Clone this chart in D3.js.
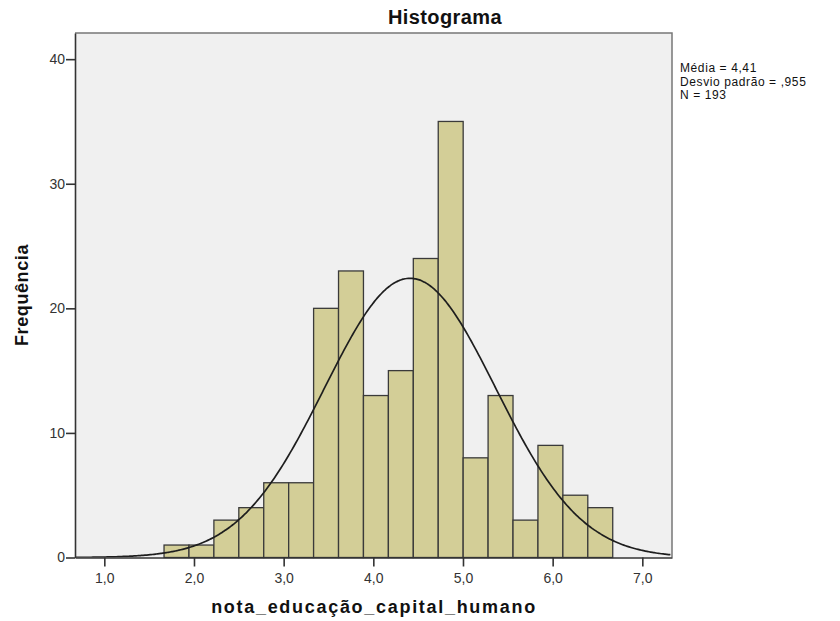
<!DOCTYPE html>
<html>
<head>
<meta charset="utf-8">
<script src="https://cdn.jsdelivr.net/npm/d3@7"></script>
<style>
  body { margin: 0; background: #fff; }
  svg { display: block; font-family: "Liberation Sans", Arial, sans-serif; }
</style>
</head>
<body>
<div id="chart"></div>
<script>
// ===================================================================

const counts = [ 1, 1, 3, 4, 6, 6, 20, 23, 13, 15, 24, 35, 8, 13, 3, 9, 5, 4 ]
const BIN_START = 1.666
const BIN_WIDTH = 0.278

const xTicks = [ 1, 2, 3, 4, 5, 6, 7 ]
const yTicks = [ 0, 10, 20, 30, 40 ]

const MEAN = 4.41
const SD = 0.955
const N = 193

const statLines = [ 'Média = 4,41', 'Desvio padrão = ,955', 'N = 193' ]

// ===================================================================

const WIDTH = 840
const HEIGHT = 621

const PLOT = { left: 75, right: 672, top: 33, bottom: 557.5 }

const fmt = d => d3.format('.1f')(d).replace('.', ',')

const x = d3.scaleLinear()
  .domain([ 0.673, 7.331 ])
  .range([ PLOT.left, PLOT.right ])
const y = d3.scaleLinear()
  .domain([ 0, 42.1 ])
  .range([ PLOT.bottom, PLOT.top ])

const bins = counts.map((count, i) => ({
  x0: BIN_START + i * BIN_WIDTH,
  x1: BIN_START + (i + 1) * BIN_WIDTH,
  count
}))

// normal curve for the stated mean / sd, scaled to the bin width
const density = v => N * BIN_WIDTH / (SD * Math.sqrt(2 * Math.PI)) *
  Math.exp(-0.5 * Math.pow((v - MEAN) / SD, 2))
const curve = d3.range(x.domain()[0], x.domain()[1] + 0.001, 0.02)
  .map(v => ({ v, f: density(v) }))

const svg = d3.select('#chart')
  .append('svg')
    .attr('width', WIDTH)
    .attr('height', HEIGHT)

svg.append('rect')
  .attr('x', PLOT.left)
  .attr('y', PLOT.top)
  .attr('width', PLOT.right - PLOT.left)
  .attr('height', PLOT.bottom - PLOT.top)
  .attr('fill', '#f0f0f0')

svg.append('g')
  .selectAll('rect')
  .data(bins)
  .join('rect')
    .attr('x', d => x(d.x0))
    .attr('y', d => y(d.count))
    .attr('width', d => x(d.x1) - x(d.x0))
    .attr('height', d => y(0) - y(d.count))
    .attr('fill', '#d3ce97')
    .attr('stroke', '#3a3a3a')
    .attr('stroke-width', 1.3)

const clip = svg.append('clipPath').attr('id', 'plotclip')
clip.append('rect')
  .attr('x', PLOT.left)
  .attr('y', PLOT.top)
  .attr('width', PLOT.right - PLOT.left)
  .attr('height', PLOT.bottom - PLOT.top)

svg.append('path')
  .datum(curve)
  .attr('clip-path', 'url(#plotclip)')
  .attr('d', d3.line().x(d => x(d.v)).y(d => y(d.f)).curve(d3.curveBasis))
  .attr('fill', 'none')
  .attr('stroke', '#1e1e1e')
  .attr('stroke-width', 1.7)

// frame: top and right in grey
svg.append('path')
  .attr('d', `M${PLOT.left},${PLOT.top}H${PLOT.right}V${PLOT.bottom}`)
  .attr('fill', 'none')
  .attr('stroke', '#777')
  .attr('stroke-width', 1.5)

// axes
const xAxis = svg.append('g')
  .attr('transform', `translate(0, ${PLOT.bottom})`)
  .call(d3.axisBottom(x).tickValues(xTicks).tickFormat(fmt).tickSize(9).tickSizeOuter(0))
const yAxis = svg.append('g')
  .attr('transform', `translate(${PLOT.left}, 0)`)
  .call(d3.axisLeft(y).tickValues(yTicks).tickSize(9).tickSizeOuter(0))

for (const ax of [ xAxis, yAxis ]) {
  ax.select('.domain').attr('stroke', '#333').attr('stroke-width', 1.6)
  ax.selectAll('.tick line').attr('stroke', '#333').attr('stroke-width', 1.6)
  ax.selectAll('.tick text')
    .attr('fill', '#333')
    .style('font-size', '14px')
    .style('font-family', '"Liberation Sans", Arial, sans-serif')
}
xAxis.selectAll('.tick text').attr('dy', '0.95em')
yAxis.selectAll('.tick text').attr('x', -10)

// titles
svg.append('text')
  .attr('x', 445)
  .attr('y', 24)
  .attr('text-anchor', 'middle')
  .style('font-size', '20px')
  .style('font-weight', 'bold')
  .style('letter-spacing', '0.4px')
  .attr('fill', '#111')
  .text('Histograma')

svg.append('text')
  .attr('x', 374)
  .attr('y', 613)
  .attr('text-anchor', 'middle')
  .style('font-size', '18px')
  .style('font-weight', 'bold')
  .style('letter-spacing', '1.7px')
  .attr('fill', '#111')
  .text('nota_educação_capital_humano')

svg.append('text')
  .attr('transform', `translate(28, 295) rotate(-90)`)
  .attr('text-anchor', 'middle')
  .style('font-size', '18px')
  .style('font-weight', 'bold')
  .style('letter-spacing', '0.6px')
  .attr('fill', '#111')
  .text('Frequência')

// stats legend
svg.append('g')
  .selectAll('text')
  .data(statLines)
  .join('text')
    .attr('x', 680)
    .attr('y', (d, i) => 72 + i * 13.5)
    .style('font-size', '12px')
    .style('letter-spacing', '0.6px')
    .attr('fill', '#111')
    .text(d => d)
</script>
</body>
</html>
